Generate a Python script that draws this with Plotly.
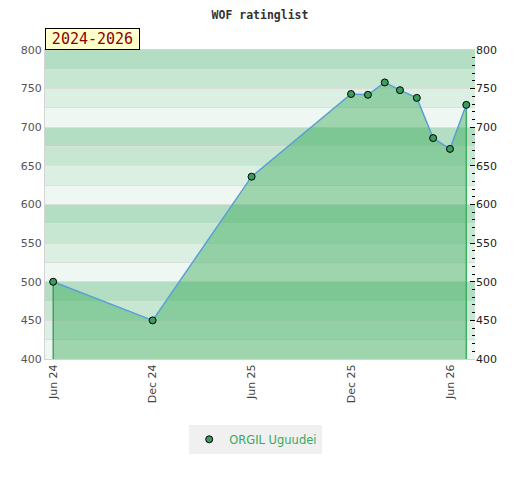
import plotly.graph_objects as go

# rating history
dates = ["2024-06-01", "2024-12-01", "2025-06-01", "2025-12-01", "2026-01-01",
         "2026-02-01", "2026-03-01", "2026-04-01", "2026-05-01", "2026-06-01",
         "2026-07-01"]
ratings = [500, 450, 636, 743, 742, 758, 748, 738, 686, 672, 729]
player = "ORGIL Uguudei"
period = "2024-2026"

y_min, y_max = 400, 800
band_colors = ["#b3dec4", "#c8e7d3", "#dcefe3", "#eef7f1"]

fig = go.Figure()

# area under the line
fig.add_trace(go.Scatter(x=dates, y=ratings, mode="lines", fill="tozeroy",
                         fillcolor="rgba(60,170,90,0.45)",
                         line=dict(color="#5a9fd6", width=1.5),
                         showlegend=False, hoverinfo="skip"))

# edges of the area at first and last point
fig.add_trace(go.Scatter(x=[dates[0], dates[0]], y=[y_min, ratings[0]], mode="lines",
                         line=dict(color="#3a8a55", width=1.2),
                         showlegend=False, hoverinfo="skip"))
fig.add_trace(go.Scatter(x=[dates[-1], dates[-1]], y=[y_min, ratings[-1]], mode="lines",
                         line=dict(color="#3cb060", width=1.5),
                         showlegend=False, hoverinfo="skip"))

fig.add_trace(go.Scatter(x=dates, y=ratings, mode="markers", name=player, yaxis="y2",
                         marker=dict(color="#3a9d5d", size=7,
                                     line=dict(color="#000000", width=1))))

# background bands, 25 points each
shapes = []
lo = y_min
i = 0
while lo < y_max:
    shapes.append(dict(type="rect", xref="paper", yref="y", x0=0, x1=1,
                       y0=lo, y1=lo + 25, layer="below", line=dict(width=0),
                       fillcolor=band_colors[3 - (i % 4)]))
    lo += 25
    i += 1

# the page body adds 8px, so the figure is 512x472
fig.update_layout(
    width=512, height=472,
    margin=dict(l=37, r=45, t=42, b=121, autoexpand=False),
    paper_bgcolor="white", plot_bgcolor="white",
    shapes=shapes,
    title=dict(text="<b>WOF ratinglist</b>", x=(260 - 8) / 512, xanchor="center",
               y=1 - 7 / 472, yanchor="middle",
               font=dict(family="DejaVu Sans Mono", size=11.5, color="#333333")),
    xaxis=dict(type="date", range=["2024-05-17", "2026-07-17"],
               tick0="2024-06-01", dtick="M6", tickformat="%b %y",
               tickangle=-90, showgrid=False, zeroline=False, automargin=False,
               showline=True, linecolor="#d4d4d4", linewidth=1, mirror=True,
               ticks="", tickfont=dict(family="DejaVu Sans", size=11, color="#444444")),
    yaxis=dict(range=[y_min, y_max], dtick=50, showgrid=True, gridcolor="#dadfdb",
               gridwidth=1, zeroline=False, showline=True, linecolor="#d4d4d4",
               automargin=False,
               minor=dict(dtick=25, showgrid=True, gridcolor="#dadfdb", gridwidth=1),
               ticks="", tickfont=dict(family="DejaVu Sans", size=11, color="#555555")),
    yaxis2=dict(range=[y_min, y_max], dtick=50, overlaying="y", side="right",
                showgrid=False, zeroline=False, ticks="inside", ticklen=5,
                tickcolor="#000000", automargin=False,
                minor=dict(dtick=10, ticks="inside", ticklen=3, tickcolor="#000000"),
                tickfont=dict(family="DejaVu Sans", size=11, color="#222222")),
    legend=dict(orientation="h", x=0.49, xanchor="center", y=-0.213, yanchor="top",
                itemwidth=30,
                bgcolor="#f0f0f0", font=dict(family="DejaVu Sans", size=11.5, color="#3aa860")),
    annotations=[dict(text=period, xref="paper", yref="paper", x=0, y=1,
                      xanchor="left", yanchor="bottom", showarrow=False,
                      width=89, height=16,
                      bgcolor="#ffffcc", bordercolor="#000000", borderwidth=1,
                      borderpad=2,
                      font=dict(family="DejaVu Sans Mono", size=15, color="#8b0000"))],
)

fig.write_html("out.html")
